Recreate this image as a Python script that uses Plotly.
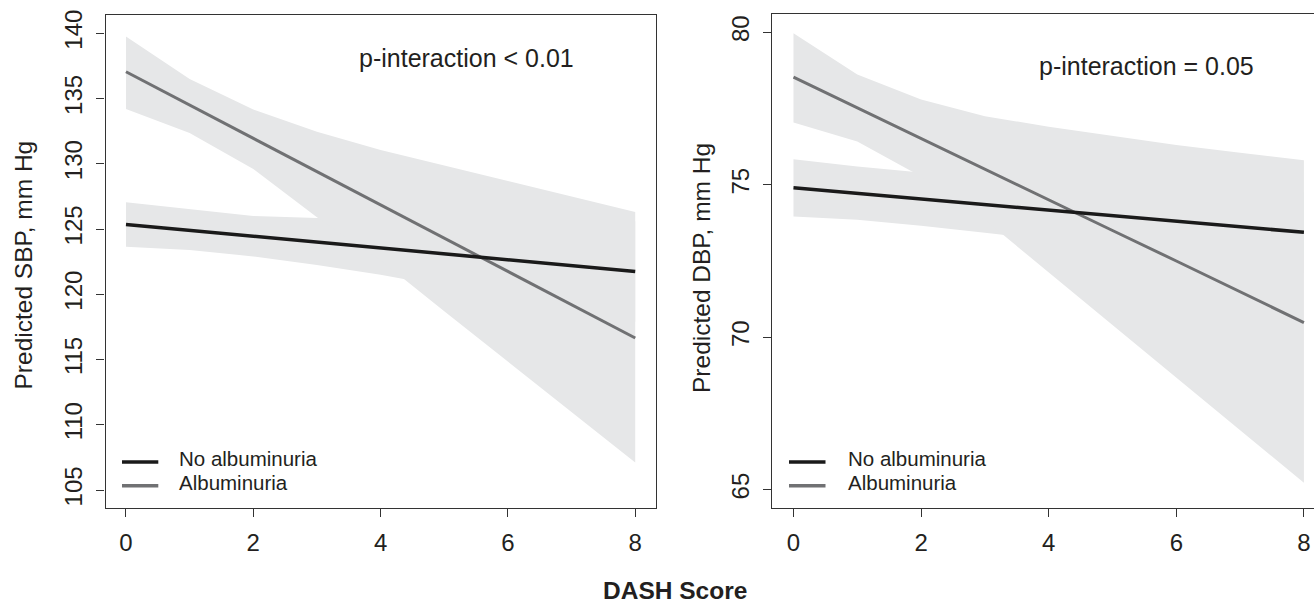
import plotly.graph_objects as go

W, H = 1314, 605

# ---------------- data ----------------
dash_score = [0, 1, 2, 3, 4, 5, 6, 7, 8]
x_ticks = [0, 2, 4, 6, 8]
sbp_ticks = [105, 110, 115, 120, 125, 130, 135, 140]
dbp_ticks = [65, 70, 75, 80]

# Predicted SBP (left panel)
sbp_noalb_fit = [125.35, 124.9, 124.45, 124.0, 123.55, 123.1, 122.65, 122.2, 121.75]
sbp_noalb_lo = [123.65, 123.4, 122.9, 122.25, 121.5, 120.6, 119.7, 118.8, 117.9]
sbp_noalb_hi = [127.05, 126.5, 126.0, 125.85, 125.6, 125.35, 125.2, 125.3, 125.6]
sbp_alb_fit = [137.05, 134.5, 131.95, 129.4, 126.85, 124.3, 121.75, 119.2, 116.65]
sbp_alb_lo = [134.2, 132.35, 129.6, 125.9, 122.6, 118.7, 114.85, 110.95, 107.1]
sbp_alb_hi = [139.75, 136.5, 134.15, 132.45, 131.05, 129.85, 128.65, 127.45, 126.3]

# Predicted DBP (right panel)
dbp_noalb_fit = [74.9, 74.72, 74.54, 74.36, 74.18, 73.99, 73.81, 73.63, 73.44]
dbp_noalb_lo = [73.96, 73.85, 73.66, 73.43, 73.2, 72.95, 72.7, 72.4, 72.1]
dbp_noalb_hi = [75.84, 75.6, 75.4, 75.25, 75.1, 75.0, 74.9, 74.8, 74.75]
dbp_alb_fit = [78.53, 77.52, 76.52, 75.51, 74.51, 73.5, 72.5, 71.49, 70.48]
dbp_alb_lo = [77.04, 76.42, 75.27, 73.85, 72.13, 70.4, 68.7, 66.95, 65.23]
dbp_alb_hi = [79.97, 78.62, 77.8, 77.25, 76.9, 76.6, 76.3, 76.05, 75.8]

group_names = ["No albuminuria", "Albuminuria"]
p_texts = ["p-interaction < 0.01", "p-interaction = 0.05"]

# ---------------- style ----------------
FONT = "Liberation Sans, Arial, Helvetica, sans-serif"
BAND = "rgb(230,231,232)"
BLACK = "rgb(26,26,26)"
GREY = "rgb(112,113,115)"
AXIS = "rgb(51,51,51)"
TXT = "rgb(35,31,32)"

fig = go.Figure()


def add_band(x, lo, hi, xa, ya):
    fig.add_trace(go.Scatter(
        x=list(x) + list(x)[::-1], y=list(hi) + list(lo)[::-1],
        fill="toself", fillcolor=BAND, mode="lines", line=dict(width=0),
        hoverinfo="skip", showlegend=False, xaxis=xa, yaxis=ya))


def add_line(x, y, color, width, name, xa, ya):
    fig.add_trace(go.Scatter(
        x=x, y=y, mode="lines", line=dict(color=color, width=width),
        name=name, showlegend=False, xaxis=xa, yaxis=ya))


# left panel
add_band(dash_score, sbp_noalb_lo, sbp_noalb_hi, "x", "y")
add_band(dash_score, sbp_alb_lo, sbp_alb_hi, "x", "y")
add_line(dash_score, sbp_alb_fit, GREY, 3, group_names[1], "x", "y")
add_line(dash_score, sbp_noalb_fit, BLACK, 3.5, group_names[0], "x", "y")

# right panel
add_band(dash_score, dbp_noalb_lo, dbp_noalb_hi, "x2", "y2")
add_band(dash_score, dbp_alb_lo, dbp_alb_hi, "x2", "y2")
add_line(dash_score, dbp_alb_fit, GREY, 3, group_names[1], "x2", "y2")
add_line(dash_score, dbp_noalb_fit, BLACK, 3.5, group_names[0], "x2", "y2")

axis_common = dict(
    showgrid=False, zeroline=False, showline=True, linecolor=AXIS, linewidth=1.3,
    ticks="outside", ticklen=8, tickwidth=1.2, tickcolor=AXIS,
    tickfont=dict(family=FONT, size=24, color=TXT), automargin=False,
    ticklabeloverflow="allow", ticklabelstandoff=5,
)

px = lambda p: p / W
py = lambda p: 1 - p / H

fig.update_layout(
    width=W, height=H, autosize=False,
    margin=dict(l=0, r=0, t=0, b=0, pad=0),
    paper_bgcolor="white", plot_bgcolor="white",
    showlegend=False,
    font=dict(family=FONT, color=TXT),
    xaxis=dict(domain=[px(105.6), px(655.6)], range=[-0.32, 8.32],
               tickvals=x_ticks, mirror=True, anchor="y", **axis_common),
    yaxis=dict(domain=[py(508.3), py(15)], range=[103.6, 141.4],
               tickvals=sbp_ticks, tickangle=-90, mirror=True, anchor="x", **axis_common),
    xaxis2=dict(domain=[px(772.3), 1.0], range=[-0.332, 8.158],
                tickvals=x_ticks, mirror=True, anchor="y2", **axis_common),
    yaxis2=dict(domain=[py(508), py(14)], range=[64.4, 80.6],
                tickvals=dbp_ticks, tickangle=-90, mirror=False, anchor="x2", **axis_common),
)

ann = []
# y-axis titles
ann.append(dict(text="Predicted SBP, mm Hg", x=px(23), y=py(265.5), xref="paper", yref="paper",
                textangle=-90, showarrow=False, xanchor="center", yanchor="middle",
                font=dict(family=FONT, size=24.5, color=TXT)))
ann.append(dict(text="Predicted DBP, mm Hg", x=px(702), y=py(268), xref="paper", yref="paper",
                textangle=-90, showarrow=False, xanchor="center", yanchor="middle",
                font=dict(family=FONT, size=24.5, color=TXT)))
# shared x title
ann.append(dict(text="<b>DASH Score</b>", x=px(674.8), y=py(590.5), xref="paper", yref="paper",
                showarrow=False, xanchor="center", yanchor="middle",
                font=dict(family=FONT, size=24.5, color=TXT)))
# p-interaction labels
ann.append(dict(text=p_texts[0], x=px(466), y=py(57.5), xref="paper", yref="paper",
                showarrow=False, xanchor="center", yanchor="middle",
                font=dict(family=FONT, size=25, color=TXT)))
ann.append(dict(text=p_texts[1], x=px(1146), y=py(66), xref="paper", yref="paper",
                showarrow=False, xanchor="center", yanchor="middle",
                font=dict(family=FONT, size=25, color=TXT)))

# legends (one per panel)
shapes = []
for (lx0, lx1, tx) in [(122, 158.3, 176.8), (789, 825.5, 846.4)]:
    for name, col, ly, ty in [(group_names[0], BLACK, 462, 458.5), (group_names[1], GREY, 485.7, 482)]:
        shapes.append(dict(type="line", xref="paper", yref="paper",
                           x0=px(lx0), x1=px(lx1), y0=py(ly), y1=py(ly),
                           line=dict(color=col, width=3.5)))
        ann.append(dict(text=name, x=px(tx), y=py(ty), xref="paper", yref="paper",
                        showarrow=False, xanchor="left", yanchor="middle",
                        font=dict(family=FONT, size=20.5, color=TXT)))

fig.update_layout(annotations=ann, shapes=shapes)

# remove the default 8px page margin so the 1314x605 figure fills the window exactly
fig.write_html("out.html",
               config={"displayModeBar": False},
               post_script="document.body.style.margin='0';document.body.style.overflow='hidden';")
